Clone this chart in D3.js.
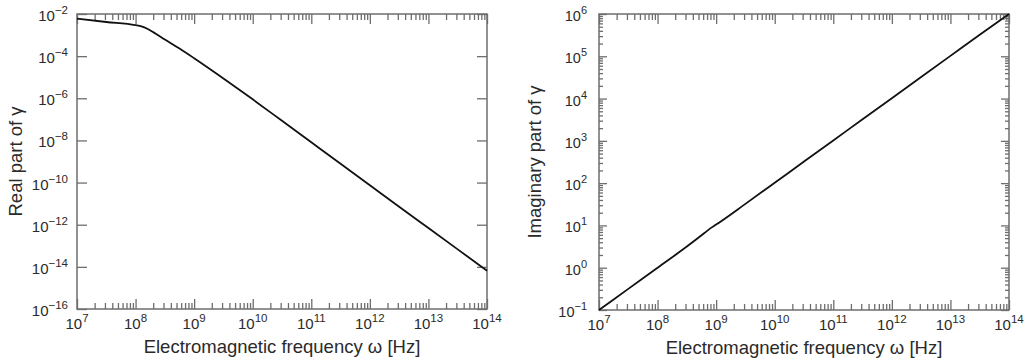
<!DOCTYPE html>
<html><head><meta charset="utf-8">
<script src="https://cdn.jsdelivr.net/npm/d3@7"></script>
<style>
html,body{margin:0;padding:0;background:#fff;}
svg{display:block;font-family:"Liberation Sans",Arial,sans-serif;}
</style></head>
<body>
<svg id="chart" width="1027" height="363"></svg>
<script>
// ---- data (log10 values) ----
const realLogOmega = [7.0, 7.5, 8.0, 8.1, 8.2, 8.3, 8.5, 8.75, 9.0, 9.5, 10.0, 10.5, 11.0, 11.5, 12.0, 12.5, 13.0, 13.5, 14.0];
const realLogGamma = [-2.22, -2.38, -2.53, -2.59, -2.70, -2.86, -3.21, -3.64, -4.10, -5.06, -6.05, -7.07, -8.09, -9.11, -10.13, -11.15, -12.16, -13.17, -14.18];
const imagLogOmega = [7.0, 7.5, 8.0, 8.5, 8.8, 8.9, 9.0, 9.5, 10.0, 10.5, 11.0, 11.5, 12.0, 12.5, 13.0, 13.5, 14.0];
const imagLogGamma = [-1.0, -0.5, 0.0, 0.5, 0.82, 0.93, 1.02, 1.51, 2.01, 2.51, 3.01, 3.51, 4.01, 4.51, 5.01, 5.51, 6.0];
const xTickExps = [7, 8, 9, 10, 11, 12, 13, 14];
const realYTickExps = [-2, -4, -6, -8, -10, -12, -14, -16];
const imagYTickExps = [6, 5, 4, 3, 2, 1, 0, -1];
const xLabel = "Electromagnetic frequency \u03c9 [Hz]";
const realYLabel = "Real part of \u03b3";
const imagYLabel = "Imaginary part of \u03b3";

const svg = d3.select("#chart");
const axisColor = "#6e6e6e";
const textColor = "#2a2a2a";

function minorTicks(lo, hi) {
  const out = [];
  for (let e = lo; e < hi; e++) for (let m = 2; m <= 9; m++) out.push(m * Math.pow(10, e));
  return out;
}
function fmtExp(e) { return e < 0 ? "\u2212" + Math.abs(e) : String(e); }

function drawPanel(opt) {
  const g = svg.append("g");
  const x = d3.scaleLog().domain([1e7, 1e14]).range([opt.x0, opt.x1]);
  const y = d3.scaleLog().domain([Math.pow(10, opt.yMin), Math.pow(10, opt.yMax)]).range([opt.y1, opt.y0]);
  const majX = xTickExps.map(e => Math.pow(10, e));
  const minX = minorTicks(7, 14);

  function styleAxis(sel) {
    sel.select(".domain").remove();
    sel.selectAll("line").attr("stroke", axisColor).attr("stroke-width", 1.3);
    sel.selectAll("text").remove();
  }
  g.append("g").attr("transform", `translate(0,${opt.y1})`).call(d3.axisTop(x).tickValues(minX).tickSize(6).tickFormat("")).call(styleAxis);
  g.append("g").attr("transform", `translate(0,${opt.y1})`).call(d3.axisTop(x).tickValues(majX).tickSize(10).tickFormat("")).call(styleAxis);
  g.append("g").attr("transform", `translate(0,${opt.y0})`).call(d3.axisBottom(x).tickValues(minX).tickSize(6).tickFormat("")).call(styleAxis);
  g.append("g").attr("transform", `translate(0,${opt.y0})`).call(d3.axisBottom(x).tickValues(majX).tickSize(10).tickFormat("")).call(styleAxis);

  const majY = opt.yTicks.map(e => Math.pow(10, e));
  g.append("g").attr("transform", `translate(${opt.x0},0)`).call(d3.axisRight(y).tickValues(majY).tickSize(opt.yMajLen).tickFormat("")).call(styleAxis);
  g.append("g").attr("transform", `translate(${opt.x1},0)`).call(d3.axisLeft(y).tickValues(majY).tickSize(opt.yMajLen).tickFormat("")).call(styleAxis);
  if (opt.yMinor) {
    const minY = minorTicks(opt.yMin, opt.yMax);
    g.append("g").attr("transform", `translate(${opt.x0},0)`).call(d3.axisRight(y).tickValues(minY).tickSize(4).tickFormat("")).call(styleAxis);
    g.append("g").attr("transform", `translate(${opt.x1},0)`).call(d3.axisLeft(y).tickValues(minY).tickSize(4).tickFormat("")).call(styleAxis);
  }

  g.append("rect").attr("x", opt.x0).attr("y", opt.y0).attr("width", opt.x1 - opt.x0).attr("height", opt.y1 - opt.y0)
    .attr("fill", "none").attr("stroke", axisColor).attr("stroke-width", 1.5);

  const line = d3.line().curve(d3.curveMonotoneX)
    .x(d => x(Math.pow(10, d[0]))).y(d => y(Math.pow(10, d[1])));
  g.append("path").datum(opt.lx.map((v, i) => [v, opt.ly[i]])).attr("d", line)
    .attr("fill", "none").attr("stroke", "#111").attr("stroke-width", 1.8).attr("stroke-linejoin", "round");

  xTickExps.forEach(e => {
    const t = g.append("text").attr("x", x(Math.pow(10, e))).attr("y", opt.y1 + 20)
      .attr("text-anchor", "middle").attr("fill", textColor).attr("font-size", 15);
    t.append("tspan").text("10");
    t.append("tspan").attr("dy", -7).attr("font-size", 11.5).text(fmtExp(e));
  });
  opt.yTicks.forEach(e => {
    const t = g.append("text").attr("x", opt.x0 - opt.yLabGap).attr("y", y(Math.pow(10, e)) + 7)
      .attr("text-anchor", "end").attr("fill", textColor).attr("font-size", opt.yFont);
    t.append("tspan").text("10");
    t.append("tspan").attr("dy", -7).attr("font-size", opt.yFont - 3.5).text(fmtExp(e));
  });
  g.append("text").attr("x", (opt.x0 + opt.x1) / 2).attr("y", opt.y1 + 44).attr("text-anchor", "middle")
    .attr("fill", textColor).attr("font-size", 18.5).text(xLabel);
  g.append("text").attr("transform", `translate(${opt.titleX},${(opt.y0 + opt.y1) / 2}) rotate(-90)`)
    .attr("text-anchor", "middle").attr("fill", textColor).attr("font-size", 18.5).text(opt.title);
}

drawPanel({x0: 77, x1: 487, y0: 14, y1: 309, yMin: -16, yMax: -2, yTicks: realYTickExps, yMinor: false,
  yMajLen: 10, yLabGap: 9, yFont: 15, lx: realLogOmega, ly: realLogGamma, title: realYLabel, titleX: 22});
drawPanel({x0: 599, x1: 1009, y0: 14, y1: 310, yMin: -1, yMax: 6, yTicks: imagYTickExps, yMinor: true,
  yMajLen: 8, yLabGap: 12, yFont: 14.5, lx: imagLogOmega, ly: imagLogGamma, title: imagYLabel, titleX: 541});
</script>
</body></html>
